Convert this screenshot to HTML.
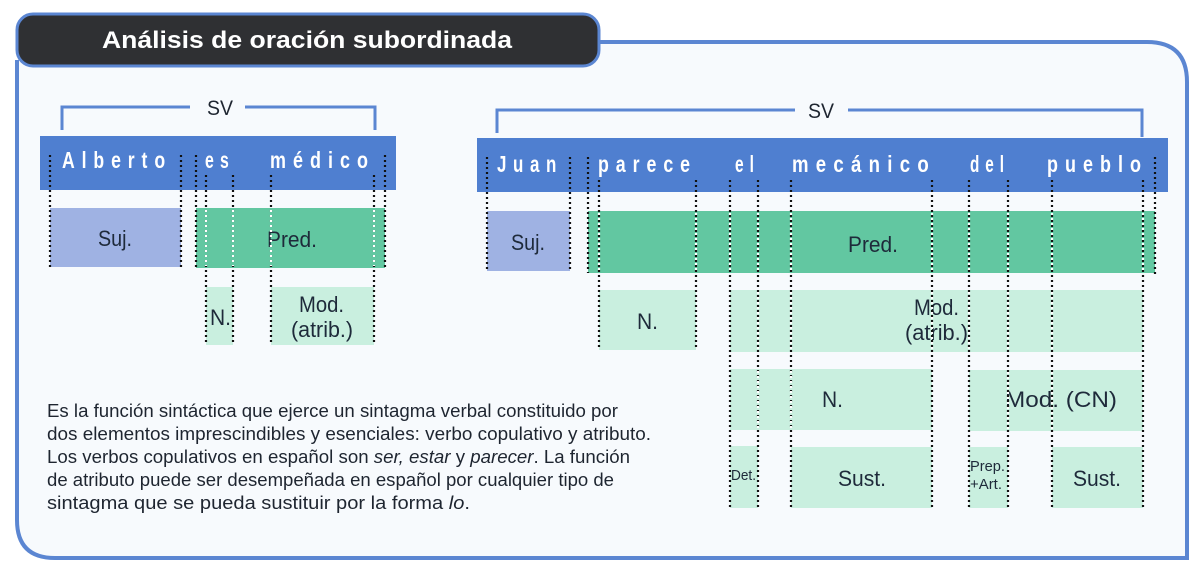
<!DOCTYPE html>
<html><head><meta charset="utf-8">
<style>
html,body{margin:0;padding:0;background:#fff;}
svg{display:block;}
text{font-family:"Liberation Sans",sans-serif;}
</style></head>
<body>
<svg width="1203" height="576" viewBox="0 0 1203 576" xmlns="http://www.w3.org/2000/svg">
<rect width="1203" height="576" fill="#fff"/>
<path d="M17 60 L17 520 Q17 558 55 558 L1187 558 L1187 82 Q1187 42 1147 42 L590 42" fill="#f7fafd" stroke="#5b86d2" stroke-width="4"/>
<rect x="17" y="14" width="582" height="52" rx="16" fill="#2f3033" stroke="#5b86d2" stroke-width="3"/>
<text x="102" y="48" fill="#fff" font-weight="bold" font-size="24" textLength="410" lengthAdjust="spacingAndGlyphs">Análisis de oración subordinada</text>

<!-- LEFT DIAGRAM -->
<g fill="none" stroke="#5b86d2" stroke-width="3">
<path d="M62 130 L62 107 L190 107"/><path d="M245 107 L375 107 L375 130"/>
</g>
<text x="207" y="115" font-size="21" fill="#1e2530" textLength="26" lengthAdjust="spacingAndGlyphs">SV</text>
<rect x="40" y="136" width="356" height="54" fill="#4f7fd0"/>
<g fill="#fff" font-weight="bold" font-size="23" letter-spacing="9">
<text x="62" y="168" textLength="110" lengthAdjust="spacingAndGlyphs">Alberto</text>
<text x="205" y="168" textLength="30" lengthAdjust="spacingAndGlyphs">es</text>
<text x="270" y="168" textLength="105" lengthAdjust="spacingAndGlyphs">médico</text>
</g>
<rect x="50" y="208" width="131" height="59" fill="#9fb2e3"/>
<rect x="196" y="208" width="189" height="60" fill="#62c7a1"/>
<rect x="206" y="287" width="27" height="58" fill="#c9efdf"/>
<rect x="271" y="287" width="103" height="58" fill="#c9efdf"/>
<g font-size="22" fill="#1e2a3a">
<text x="98" y="246" textLength="34" lengthAdjust="spacingAndGlyphs">Suj.</text>
<text x="267" y="247" textLength="50" lengthAdjust="spacingAndGlyphs">Pred.</text>
<text x="210" y="325" textLength="21" lengthAdjust="spacingAndGlyphs">N.</text>
<text x="299" y="312" textLength="45" lengthAdjust="spacingAndGlyphs">Mod.</text>
<text x="291" y="337" textLength="62" lengthAdjust="spacingAndGlyphs">(atrib.)</text>
</g>
<g stroke="#111" stroke-width="2.2" stroke-dasharray="2 3" fill="none">
<path d="M50 155V267M181 155V267M196 155V268M385 155V268M206 175V345M233 175V345M271 175V345M374 175V345"/>
</g>
<g stroke="#fff" stroke-width="2.2" stroke-dasharray="2 3" fill="none">
<path d="M206 210V266M233 210V266M271 210V266M374 210V266"/>
</g>

<!-- RIGHT DIAGRAM -->
<g fill="none" stroke="#5b86d2" stroke-width="3">
<path d="M497 133 L497 110 L795 110"/><path d="M848 110 L1142 110 L1142 137"/>
</g>
<text x="808" y="118" font-size="21" fill="#1e2530" textLength="26" lengthAdjust="spacingAndGlyphs">SV</text>
<rect x="477" y="138" width="691" height="54" fill="#4f7fd0"/>
<g fill="#fff" font-weight="bold" font-size="23" letter-spacing="9">
<text x="497" y="172" textLength="66" lengthAdjust="spacingAndGlyphs">Juan</text>
<text x="598" y="172" textLength="99" lengthAdjust="spacingAndGlyphs">parece</text>
<text x="735" y="172" textLength="25" lengthAdjust="spacingAndGlyphs">el</text>
<text x="792" y="172" textLength="144" lengthAdjust="spacingAndGlyphs">mecánico</text>
<text x="970" y="172" textLength="40" lengthAdjust="spacingAndGlyphs">del</text>
<text x="1047" y="172" textLength="101" lengthAdjust="spacingAndGlyphs">pueblo</text>
</g>
<rect x="487" y="211" width="83" height="60" fill="#9fb2e3"/>
<rect x="588" y="211" width="567" height="62" fill="#62c7a1"/>
<rect x="599" y="290" width="97" height="60" fill="#c9efdf"/>
<rect x="730" y="290" width="413" height="62" fill="#c9efdf"/>
<rect x="730" y="369" width="202" height="61" fill="#c9efdf"/>
<rect x="969" y="370" width="174" height="61" fill="#c9efdf"/>
<rect x="730" y="446" width="28" height="62" fill="#c9efdf"/>
<rect x="791" y="447" width="141" height="61" fill="#c9efdf"/>
<rect x="969" y="447" width="39" height="61" fill="#c9efdf"/>
<rect x="1052" y="447" width="91" height="61" fill="#c9efdf"/>
<g font-size="22" fill="#1e2a3a">
<text x="511" y="250" textLength="34" lengthAdjust="spacingAndGlyphs">Suj.</text>
<text x="848" y="252" textLength="50" lengthAdjust="spacingAndGlyphs">Pred.</text>
<text x="637" y="329" textLength="21" lengthAdjust="spacingAndGlyphs">N.</text>
<text x="914" y="315" textLength="45" lengthAdjust="spacingAndGlyphs">Mod.</text>
<text x="905" y="340" textLength="63" lengthAdjust="spacingAndGlyphs">(atrib.)</text>
<text x="822" y="407" textLength="21" lengthAdjust="spacingAndGlyphs">N.</text>
<text x="1005" y="407" textLength="112" lengthAdjust="spacingAndGlyphs">Mod. (CN)</text>
<text x="838" y="486" textLength="48" lengthAdjust="spacingAndGlyphs">Sust.</text>
<text x="1073" y="486" textLength="48" lengthAdjust="spacingAndGlyphs">Sust.</text>
</g>
<g font-size="15" fill="#1e2a3a">
<text x="731" y="480" textLength="25" lengthAdjust="spacingAndGlyphs">Det.</text>
<text x="970" y="471" textLength="35" lengthAdjust="spacingAndGlyphs">Prep.</text>
<text x="970" y="489" textLength="32" lengthAdjust="spacingAndGlyphs">+Art.</text>
</g>
<g stroke="#111" stroke-width="2.2" stroke-dasharray="2 3" fill="none">
<path d="M487 157V271M570 157V271M588 157V273M1155 157V275M599 180V350M696 180V350M730 180V507M758 180V507M791 180V507M932 180V507M969 180V507M1008 180V507M1052 180V507M1143 180V507"/>
</g>
<g stroke="#fff" stroke-width="2.2" stroke-dasharray="2 3" fill="none">
<path d="M599 213V271M696 213V271M730 213V271M758 213V271M791 213V271M932 213V271M969 213V271M1008 213V271M1052 213V271M1143 213V271"/>
<path d="M758 292V350M791 292V350M932 292V350M969 292V350M1008 292V350M1052 292V350"/>
<path d="M758 371V428M791 371V428M1008 372V429M1052 372V429"/>
</g>

<g font-size="18" fill="#1e2530">
<text x="47" y="417" textLength="571" lengthAdjust="spacingAndGlyphs">Es la función sintáctica que ejerce un sintagma verbal constituido por</text>
<text x="47" y="440" textLength="604" lengthAdjust="spacingAndGlyphs">dos elementos imprescindibles y esenciales: verbo copulativo y atributo.</text>
<text x="47" y="463" textLength="583" lengthAdjust="spacingAndGlyphs">Los verbos copulativos en español son <tspan font-style="italic">ser, estar</tspan> y <tspan font-style="italic">parecer</tspan>. La función</text>
<text x="47" y="486" textLength="567" lengthAdjust="spacingAndGlyphs">de atributo puede ser desempeñada en español por cualquier tipo de</text>
<text x="47" y="509" textLength="423" lengthAdjust="spacingAndGlyphs">sintagma que se pueda sustituir por la forma <tspan font-style="italic">lo</tspan>.</text>
</g>
</svg>
</body></html>
